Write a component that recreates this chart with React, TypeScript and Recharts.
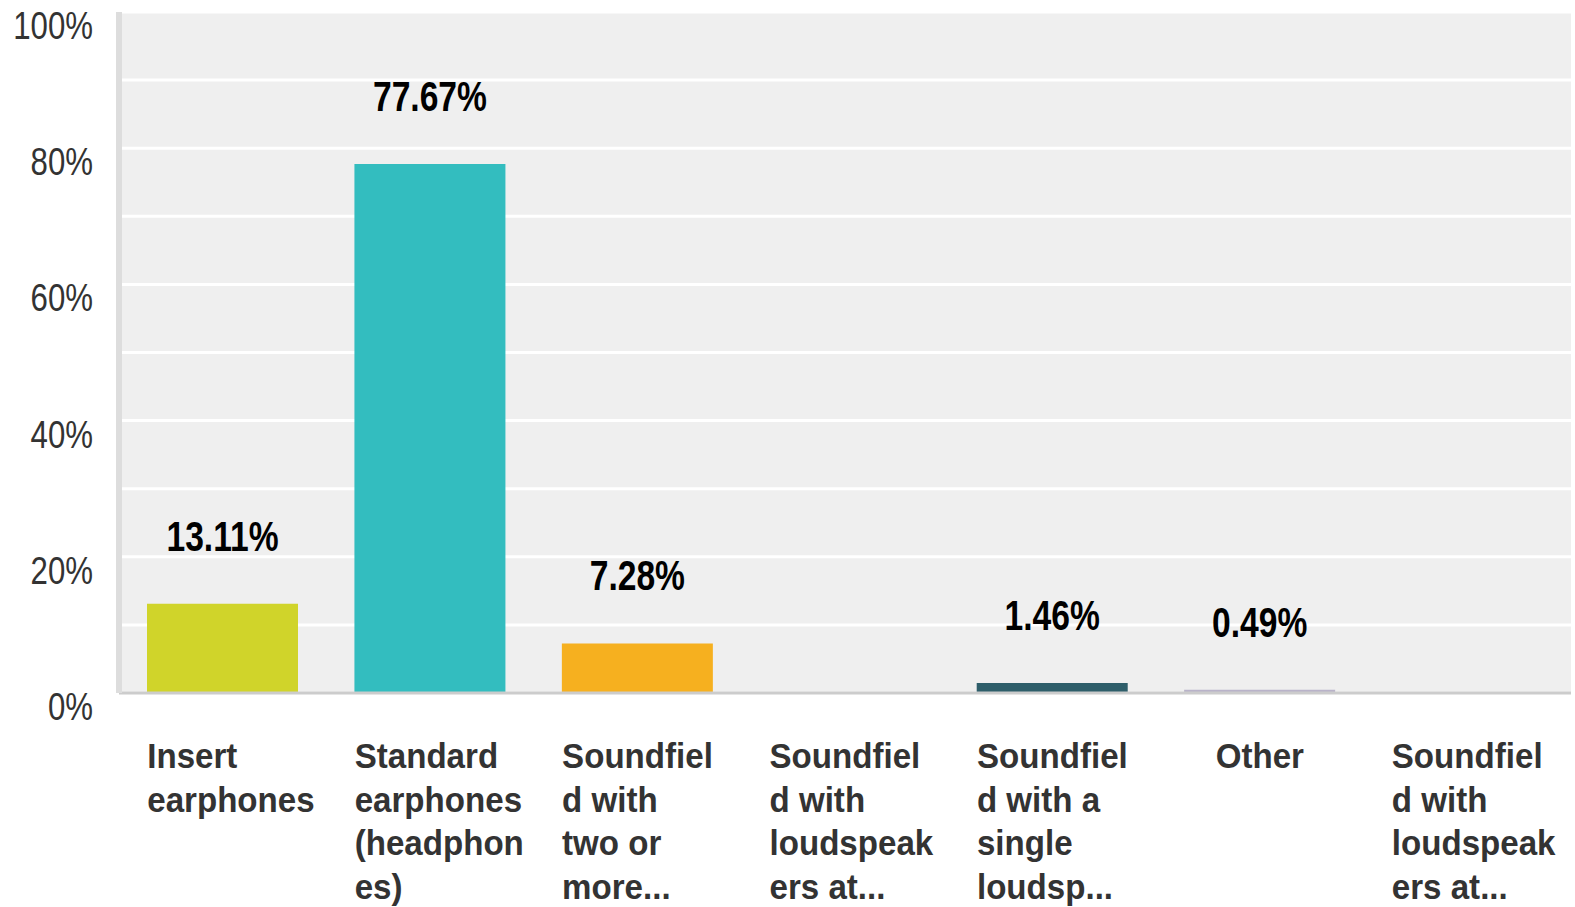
import React from 'react';
import { BarChart, Bar, XAxis, YAxis, CartesianGrid, Cell, LabelList } from 'recharts';

// answer options, as wrapped/truncated on the axis
const categories = [
  'Insert earphones',
  'Standard earphones (headphones)',
  'Soundfield with two or more loudspeakers',
  'Soundfield with loudspeakers at ear level',
  'Soundfield with a single loudspeaker',
  'Other',
  'Soundfield with loudspeakers at different positions',
];
const categoryLines = [
  ['Insert', 'earphones'],
  ['Standard', 'earphones', '(headphon', 'es)'],
  ['Soundfiel', 'd with', 'two or', 'more...'],
  ['Soundfiel', 'd with', 'loudspeak', 'ers at...'],
  ['Soundfiel', 'd with a', 'single', 'loudsp...'],
  ['Other'],
  ['Soundfiel', 'd with', 'loudspeak', 'ers at...'],
];
const shares = [13.11, 77.67, 7.28, 0, 1.46, 0.49, 0];
const barColors = ['#d0d42a', '#33bdbf', '#f6b01f', '#9b59b6', '#2e5e6a', '#b9b3c9', '#e4572e'];
const yTicks = [0, 10, 20, 30, 40, 50, 60, 70, 80, 90, 100];

const data = categories.map((name, i) => ({ name, idx: i, value: shares[i] }));

const FONT = '"Liberation Sans", Arial, sans-serif';
const BAR_W = 151;

const YTick = (props: any) => {
  const { x, y, payload } = props;
  if (payload.value % 20 !== 0) return null;
  return (
    <g transform={`translate(${x - 26},${y + 27}) scale(0.8,1)`}>
      <text x={0} y={0} textAnchor="end" fontFamily={FONT} fontSize={39} fill="#333">
        {payload.value}%
      </text>
    </g>
  );
};

const XTick = (props: any) => {
  const { x, y, payload } = props;
  const lines = categoryLines[payload.index] || [String(payload.value)];
  const single = lines.length === 1;
  const left = single ? x : x - BAR_W / 2;
  return (
    <g transform={`translate(${left},${y + 75}) scale(0.92,1)`}>
      <text
        x={0}
        y={0}
        textAnchor={single ? 'middle' : 'start'}
        fontFamily={FONT}
        fontWeight="bold"
        fontSize={36}
        fill="#333"
      >
        {lines.map((l, i) => (
          <tspan key={i} x={0} dy={i === 0 ? 0 : 43.7}>
            {l}
          </tspan>
        ))}
      </text>
    </g>
  );
};

const ValueLabel = (props: any) => {
  const { x, y, width, value } = props;
  if (!value) return null;
  return (
    <g transform={`translate(${x + width / 2},${y - 53}) scale(0.8,1)`}>
      <text x={0} y={0} textAnchor="middle" fontFamily={FONT} fontWeight="bold" fontSize={42} fill="#000">
        {value.toFixed(2)}%
      </text>
    </g>
  );
};

export default function App() {
  return (
    <div style={{ position: 'absolute', left: 0, top: 0, background: '#fff' }}>
      <BarChart
        width={1575}
        height={907}
        data={data}
        margin={{ top: 12, right: 4, bottom: 0, left: 0 }}
      >
        <CartesianGrid
          vertical={false}
          horizontal
          fill="#efefef"
          stroke="#ffffff"
          strokeWidth={3}
        />
        <Bar dataKey="value" barSize={BAR_W} isAnimationActive={false}>
          {data.map((d, i) => (
            <Cell key={d.idx} fill={barColors[i]} />
          ))}
          <LabelList dataKey="value" content={ValueLabel} />
        </Bar>
        <XAxis
          dataKey="name"
          height={214}
          interval={0}
          tickLine={false}
          tickSize={0}
          tickMargin={0}
          axisLine={{ stroke: '#cccccc', strokeWidth: 3 }}
          tick={<XTick />}
        />
        <YAxis
          width={119}
          domain={[0, 100]}
          ticks={yTicks}
          interval={0}
          tickLine={false}
          tickSize={0}
          tickMargin={0}
          axisLine={{ stroke: '#dddddd', strokeWidth: 6 }}
          tick={<YTick />}
        />
      </BarChart>
    </div>
  );
}
